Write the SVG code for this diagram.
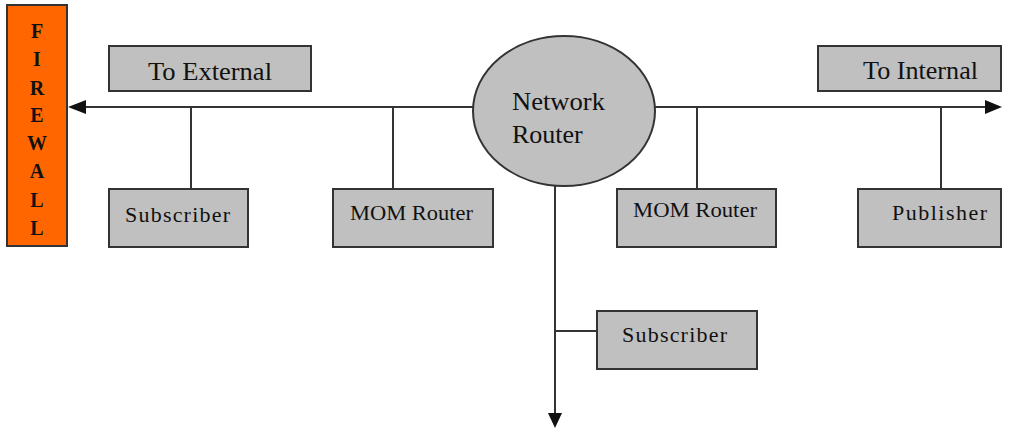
<svg xmlns="http://www.w3.org/2000/svg" width="1011" height="431" viewBox="0 0 1011 431">
<defs>
<style>
.box{fill:#c0c0c0;stroke:#333;stroke-width:2}
text{font-family:'Liberation Serif','DejaVu Serif',serif;fill:#111}
.lbl{font-size:22px}
.big{font-size:26px}
.fw{font-size:20px;font-weight:bold;text-anchor:middle}
.ln{stroke:#333;stroke-width:2;fill:none}
.ah{fill:#111}
</style>
</defs>
<rect width="1011" height="431" fill="#fff"/>
<g id="connectors">
<line class="ln" x1="80" y1="107" x2="474" y2="107"/>
<polygon class="ah" points="68,107 86,100 86,114"/>
<line class="ln" x1="655" y1="107" x2="990" y2="107"/>
<polygon class="ah" points="1002,107 985,100 985,114"/>
<line class="ln" x1="191" y1="107" x2="191" y2="189"/>
<line class="ln" x1="393" y1="107" x2="393" y2="189"/>
<line class="ln" x1="697" y1="107" x2="697" y2="189"/>
<line class="ln" x1="941" y1="107" x2="941" y2="189"/>
<line class="ln" x1="555" y1="186" x2="555" y2="416"/>
<polygon class="ah" points="555,428 548,413 562,413"/>
<line class="ln" x1="555" y1="331" x2="597" y2="331"/>
</g>
<g id="firewall">
<rect x="7" y="5" width="60" height="241" fill="#ff6600" stroke="#333" stroke-width="2"/>
<text class="fw" x="37" y="38">F</text>
<text class="fw" x="37" y="66">I</text>
<text class="fw" x="37" y="95">R</text>
<text class="fw" x="37" y="122">E</text>
<text class="fw" x="37" y="150">W</text>
<text class="fw" x="37" y="178">A</text>
<text class="fw" x="37" y="207">L</text>
<text class="fw" x="37" y="235">L</text>
</g>
<g id="to-external">
<rect class="box" x="109" y="46" width="202" height="45"/>
<text class="big" x="148" y="80" textLength="124" lengthAdjust="spacingAndGlyphs">To External</text>
</g>
<g id="to-internal">
<rect class="box" x="818" y="46" width="183" height="45"/>
<text class="big" x="863" y="79" textLength="115" lengthAdjust="spacingAndGlyphs">To Internal</text>
</g>
<g id="network-router">
<ellipse cx="564" cy="111" rx="91" ry="75" fill="#c0c0c0" stroke="#333" stroke-width="2"/>
<text class="big" x="512" y="110" textLength="93" lengthAdjust="spacingAndGlyphs">Network</text>
<text class="big" x="512" y="143">Router</text>
</g>
<g id="subscriber-left">
<rect class="box" x="109" y="189" width="139" height="58"/>
<text class="lbl" x="125" y="222" textLength="105" lengthAdjust="spacing">Subscriber</text>
</g>
<g id="mom-router-left">
<rect class="box" x="333" y="189" width="160" height="58"/>
<text class="lbl" x="350" y="220" textLength="123" lengthAdjust="spacingAndGlyphs">MOM Router</text>
</g>
<g id="mom-router-right">
<rect class="box" x="617" y="189" width="159" height="58"/>
<text class="lbl" x="633" y="217" textLength="124" lengthAdjust="spacingAndGlyphs">MOM Router</text>
</g>
<g id="publisher">
<rect class="box" x="858" y="189" width="143" height="58"/>
<text class="lbl" x="892" y="220" textLength="95" lengthAdjust="spacing">Publisher</text>
</g>
<g id="subscriber-bottom">
<rect class="box" x="597" y="311" width="160" height="58"/>
<text class="lbl" x="622" y="342" textLength="105" lengthAdjust="spacing">Subscriber</text>
</g>
</svg>
